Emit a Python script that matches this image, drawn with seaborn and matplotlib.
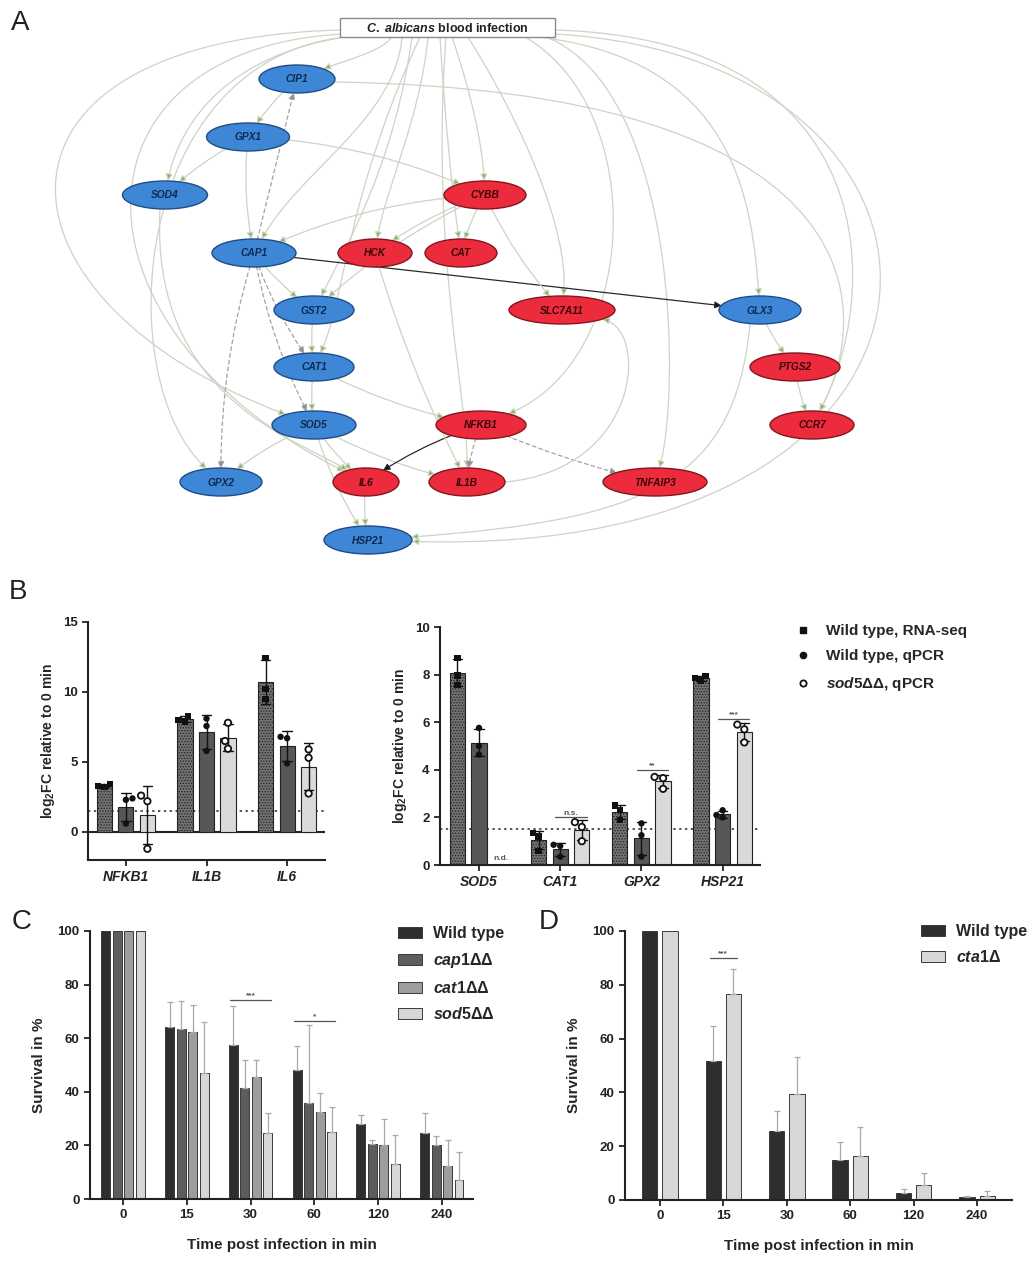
import numpy as np
import pandas as pd
import matplotlib
matplotlib.use("Agg")
import matplotlib.pyplot as plt
import seaborn as sns
from matplotlib.patches import Ellipse, Rectangle, FancyArrowPatch, Patch
from matplotlib.path import Path
from matplotlib.lines import Line2D

# ======================= DATA =======================
# ---- Panel A: network ----
fungal_genes = ['CIP1', 'GPX1', 'SOD4', 'CAP1', 'GST2', 'CAT1', 'SOD5', 'GPX2', 'HSP21', 'GLX3']
host_genes = ['CYBB', 'HCK', 'CAT', 'SLC7A11', 'PTGS2', 'NFKB1', 'CCR7', 'IL6', 'IL1B', 'TNFAIP3']
infection_label = 'C. albicans blood infection'
infection_targets = ['CIP1', 'SOD4', 'SOD5', 'IL6', 'GPX2', 'CAP1', 'GST2', 'HCK', 'CAT', 'CYBB',
                     'CAT1', 'SLC7A11', 'IL1B', 'NFKB1', 'GLX3', 'TNFAIP3', 'CCR7', 'HSP21']
gene_links = [
    ('CIP1', 'GPX1', 'activation'), ('GPX1', 'SOD4', 'activation'), ('GPX1', 'CAP1', 'activation'),
    ('GPX1', 'CYBB', 'activation'), ('CIP1', 'CCR7', 'activation'), ('CAP1', 'CIP1', 'predicted'),
    ('CAP1', 'GST2', 'activation'), ('CAP1', 'CAT1', 'predicted'), ('CAP1', 'GPX2', 'predicted'),
    ('CAP1', 'SOD5', 'predicted'), ('CAP1', 'GLX3', 'regulation'), ('CYBB', 'CAP1', 'activation'),
    ('CYBB', 'HCK', 'activation'), ('CYBB', 'CAT', 'activation'), ('CYBB', 'SLC7A11', 'activation'),
    ('CYBB', 'GST2', 'activation'), ('GST2', 'CAT1', 'activation'), ('CAT1', 'SOD5', 'activation'),
    ('CAT1', 'NFKB1', 'activation'), ('SOD5', 'GPX2', 'activation'), ('SOD5', 'IL6', 'activation'),
    ('SOD5', 'IL1B', 'activation'), ('SOD5', 'HSP21', 'activation'), ('NFKB1', 'IL6', 'regulation'),
    ('NFKB1', 'IL1B', 'predicted'), ('NFKB1', 'TNFAIP3', 'predicted'), ('IL6', 'HSP21', 'activation'),
    ('HCK', 'IL1B', 'activation'), ('GLX3', 'PTGS2', 'activation'), ('PTGS2', 'CCR7', 'activation'),
    ('GLX3', 'HSP21', 'activation'), ('SOD4', 'IL6', 'activation'), ('IL1B', 'SLC7A11', 'activation'),
]

# ---- Panel B ----
series_B = ['Wild type, RNA-seq', 'Wild type, qPCR', 'sod5ΔΔ, qPCR']
threshold_B = 1.5
genes_B1 = ['NFKB1', 'IL1B', 'IL6']
rnaseq_B1 = [[3.45, 3.3, 3.2], [8.3, 8.0, 7.9], [12.45, 10.2, 9.5]]
qpcr_B1 = [[2.4, 2.3, 0.6], [8.1, 7.57, 5.79], [6.8, 6.7, 4.9]]
sod5_B1 = [[2.6, 2.2, -1.2], [7.8, 6.5, 5.95], [5.9, 5.3, 2.75]]
genes_B2 = ['SOD5', 'CAT1', 'GPX2', 'HSP21']
rnaseq_B2 = [[8.7, 7.97, 7.57], [1.35, 1.2, 0.6], [2.5, 2.3, 1.9], [7.95, 7.85, 7.75]]
qpcr_B2 = [[5.76, 5.0, 4.64], [0.85, 0.8, 0.35], [1.75, 1.25, 0.35], [2.3, 2.1, 2.0]]
sod5_B2 = [[np.nan, np.nan, np.nan], [1.8, 1.6, 1.0], [3.7, 3.65, 3.2], [5.9, 5.7, 5.15]]
sig_B2_genes = ['CAT1', 'GPX2', 'HSP21']
sig_B2_text = ['n.s.', '**', '***']
sig_B2_y = [2.0, 4.0, 6.15]
nd_B2_gene = 'SOD5'

# ---- Panel C ----
timepoints = ['0', '15', '30', '60', '120', '240']
strains_C = ['Wild type', 'cap1ΔΔ', 'cat1ΔΔ', 'sod5ΔΔ']
surv_wt_C = [100, 64, 57.5, 48, 28, 24.5]
surv_cap1_C = [100, 63.5, 41.5, 36, 20.5, 20]
surv_cat1_C = [100, 62.5, 45.5, 32.5, 20, 12.5]
surv_sod5_C = [100, 47, 24.5, 25, 13, 7]
err_wt_C = [0, 9.5, 14.5, 9, 3.5, 7.5]
err_cap1_C = [0, 10.5, 10.5, 29, 1.5, 3.5]
err_cat1_C = [0, 10, 6.5, 7, 10, 9.5]
err_sod5_C = [0, 19, 7.5, 9.5, 11, 10.5]
sig_C_time = ['30', '60']
sig_C_text = ['***', '*']
sig_C_y = [74.3, 66.5]

# ---- Panel D ----
strains_D = ['Wild type', 'cta1Δ']
surv_wt_D = [100, 51.5, 25.5, 15, 2.5, 1]
surv_cta1_D = [100, 76.5, 39.5, 16.5, 5.5, 1.5]
err_wt_D = [0, 13, 7.5, 6.5, 1.5, 0.5]
err_cta1_D = [0, 9.5, 13.5, 10.5, 4.5, 2]
sig_D_time = ['15']
sig_D_text = ['***']
sig_D_y = [90.0]

# ======================= STYLE =======================
sns.set_style('ticks')
plt.rcParams['font.family'] = ['Liberation Sans', 'DejaVu Sans']
plt.rcParams['font.weight'] = 'bold'
plt.rcParams['axes.labelweight'] = 'bold'
plt.rcParams['mathtext.fontset'] = 'custom'
plt.rcParams['mathtext.rm'] = 'Liberation Sans:bold'
plt.rcParams['mathtext.bf'] = 'Liberation Sans:bold'
plt.rcParams['mathtext.it'] = 'Liberation Sans:italic:bold'
plt.rcParams['hatch.color'] = '#3c3c3c'
plt.rcParams['hatch.linewidth'] = 0.6
plt.rcParams['axes.edgecolor'] = '#222222'
plt.rcParams['axes.linewidth'] = 1.5
plt.rcParams['xtick.major.width'] = 1.3
plt.rcParams['ytick.major.width'] = 1.3
plt.rcParams['xtick.major.size'] = 4
plt.rcParams['ytick.major.size'] = 4
plt.rcParams['xtick.color'] = '#222222'
plt.rcParams['ytick.color'] = '#222222'

W, H = 1032, 1261
fig = plt.figure(figsize=(W / 100, H / 100), dpi=100)


def axes_px(x0, y0, x1, y1):
    return fig.add_axes([x0 / W, 1 - y1 / H, (x1 - x0) / W, (y1 - y0) / H])


def fmt_strain(s):
    if s.startswith('Wild'):
        return s
    gene = s.split('Δ')[0]
    rest = s[len(gene):]
    return r'$\mathit{' + gene + '}$' + rest


# ======================= PANEL A =======================
NET_H = 565
axn = fig.add_axes([0, 1 - NET_H / H, 1, NET_H / H])
axn.set_xlim(0, W)
axn.set_ylim(NET_H, 0)
axn.axis('off')

node_layout = {  # cx, cy, width (pixels)
    'CIP1': (297, 79, 76), 'GPX1': (248, 137, 83), 'SOD4': (165, 195, 85), 'CYBB': (485, 195, 82),
    'CAP1': (254, 253, 84), 'HCK': (375, 253, 74), 'CAT': (461, 253, 72), 'GST2': (314, 310, 80),
    'SLC7A11': (562, 310, 106), 'GLX3': (760, 310, 82), 'CAT1': (314, 367, 80), 'PTGS2': (795, 367, 90),
    'SOD5': (314, 425, 84), 'NFKB1': (481, 425, 90), 'CCR7': (812, 425, 84), 'GPX2': (221, 482, 82),
    'IL6': (366, 482, 66), 'IL1B': (467, 482, 76), 'TNFAIP3': (655, 482, 104), 'HSP21': (368, 540, 88),
}
NODE_H = 28
box_layout = (340, 18, 555, 37)

box_edge_geom = {
    'CIP1': ((392, 37), (380, 52), (352, 58)),
    'SOD4': ((345, 37), (230, 55), (180, 120)),
    'SOD5': ((340, 30), (-40, 40), (-20, 300)),
    'IL6': ((342, 34), (60, 50), (60, 330)),
    'GPX2': ((346, 37), (130, 60), (110, 380)),
    'CAP1': ((402, 37), (395, 120), (300, 170)),
    'GST2': ((412, 37), (395, 160), (350, 240)),
    'HCK': ((428, 37), (420, 120), (385, 190)),
    'CAT': ((440, 37), (445, 120), (452, 190)),
    'CYBB': ((452, 37), (470, 90), (482, 140)),
    'CAT1': ((420, 37), (345, 200), (345, 300)),
    'SLC7A11': ((468, 37), (520, 120), (570, 230)),
    'IL1B': ((446, 37), (430, 250), (468, 400)),
    'NFKB1': ((525, 37), (650, 110), (640, 360)),
    'GLX3': ((538, 37), (735, 60), (752, 200)),
    'TNFAIP3': ((546, 37), (680, 90), (680, 400)),
    'CCR7': ((555, 30), (890, 40), (880, 300)),
    'HSP21': ((555, 34), (1010, 60), (1010, 560)),
}
link_geom = {
    ('CIP1', 'CCR7'): ((335, 82), (860, 90), (880, 300)),
    ('GLX3', 'HSP21'): ((750, 324), (735, 480), (650, 520)),
    ('IL1B', 'SLC7A11'): ((505, 482), (640, 470), (650, 330)),
    ('SOD4', 'IL6'): ((160, 209), (150, 400), (300, 440)),
}
link_rad = {('GPX1', 'CYBB'): -0.1, ('CYBB', 'CAP1'): 0.1, ('CAP1', 'GLX3'): 0.0,
            ('CAP1', 'CIP1'): 0.0, ('NFKB1', 'TNFAIP3'): 0.05, ('HCK', 'IL1B'): 0.05}

edge_style = {
    'activation': dict(ec='#cdd3c5', fc='#78b447', ls='-', lw=0.9),
    'predicted': dict(ec='#a3a3a3', fc='#8a8a8a', ls=(0, (3, 2.5)), lw=0.9),
    'regulation': dict(ec='#2a2a2a', fc='#111111', ls='-', lw=0.9),
}


def ell_point(node, toward):
    cx, cy, w = node_layout[node]
    a, b = w / 2, NODE_H / 2
    dx, dy = toward[0] - cx, toward[1] - cy
    t = 1 / np.sqrt((dx / a) ** 2 + (dy / b) ** 2)
    return (cx + t * dx, cy + t * dy)


def bezier_arrow(p0, c1, c2, p3, kind):
    st = edge_style[kind]
    path = Path([p0, c1, c2, p3], [Path.MOVETO, Path.CURVE4, Path.CURVE4, Path.CURVE4])
    arr = FancyArrowPatch(path=path, arrowstyle='-|>,head_length=0.45,head_width=0.22',
                          mutation_scale=9, edgecolor=st['ec'], facecolor=st['fc'],
                          linestyle=st['ls'], linewidth=st['lw'], zorder=1)
    axn.add_patch(arr)


ellipses = {}
for g in fungal_genes + host_genes:
    cx, cy, w = node_layout[g]
    is_host = g in host_genes
    e = Ellipse((cx, cy), w, NODE_H, facecolor='#ec2b3c' if is_host else '#3d87d6',
                edgecolor='#861520' if is_host else '#1f4c88', linewidth=1.0, zorder=3)
    axn.add_patch(e)
    ellipses[g] = e
    axn.text(cx, cy + 0.5, g, ha='center', va='center', fontsize=7.3, fontstyle='italic',
             fontweight='bold', color='#3a0508' if is_host else '#10294f', zorder=4)

bx0, by0, bx1, by1 = box_layout
axn.add_patch(Rectangle((bx0, by0), bx1 - bx0, by1 - by0, facecolor='white',
                        edgecolor='#8a8a8a', linewidth=1.0, zorder=3))
lab_gen, lab_rest = infection_label.split(' blood')
axn.text((bx0 + bx1) / 2, (by0 + by1) / 2 + 0.5,
         r'$\mathit{' + lab_gen.replace(' ', r'\ ') + '}$ blood' + lab_rest,
         ha='center', va='center', fontsize=9, fontweight='bold', color='#222', zorder=4)

for tgt in infection_targets:
    p0, c1, c2 = box_edge_geom[tgt]
    bezier_arrow(p0, c1, c2, ell_point(tgt, c2), 'activation')

for src, dst, kind in gene_links:
    if (src, dst) in link_geom:
        p0, c1, c2 = link_geom[(src, dst)]
        bezier_arrow(p0, c1, c2, ell_point(dst, c2), kind)
    else:
        st = edge_style[kind]
        rad = link_rad.get((src, dst), 0.08)
        arr = FancyArrowPatch(node_layout[src][:2], node_layout[dst][:2],
                              patchA=ellipses[src], patchB=ellipses[dst],
                              connectionstyle=f'arc3,rad={rad}',
                              arrowstyle='-|>,head_length=0.45,head_width=0.22', mutation_scale=9,
                              edgecolor=st['ec'], facecolor=st['fc'], linestyle=st['ls'],
                              linewidth=st['lw'], shrinkA=0, shrinkB=0, zorder=1)
        axn.add_patch(arr)

# ======================= PANEL B =======================
palette_B = {series_B[0]: '#727272', series_B[1]: '#575757', series_B[2]: '#dadada'}
marker_B = {series_B[0]: 's', series_B[1]: 'o', series_B[2]: 'o'}
point_fill_B = {series_B[0]: '#111111', series_B[1]: '#111111', series_B[2]: '#ffffff'}


def long_B(genes, rna, qpcr, sod5):
    rows = []
    for s, vals in zip(series_B, [rna, qpcr, sod5]):
        for g, reps in zip(genes, vals):
            for v in reps:
                rows.append({'gene': g, 'series': s, 'value': v})
    return pd.DataFrame(rows)


def bar_lookup(ax):
    out = {}
    for hi, cont in enumerate(ax.containers):
        for p in cont.patches:
            xc = p.get_x() + p.get_width() / 2
            out[(hi, int(round(xc)))] = (xc, p.get_height(), p.get_width())
    return out


def panel_B(ax, genes, df):
    sns.barplot(data=df, x='gene', y='value', hue='series', order=genes, hue_order=series_B,
                palette=palette_B, errorbar='sd', capsize=0.35,
                err_kws={'color': '#111111', 'linewidth': 1.0}, width=0.8, gap=0.3,
                edgecolor='#222222', linewidth=0.8, legend=False, ax=ax)
    for p in ax.containers[0].patches:
        p.set_hatch('......')
    for s in series_B:
        sub = df[df['series'] == s]
        sns.swarmplot(data=sub, x='gene', y='value', hue='series', order=genes, hue_order=series_B,
                      palette=point_fill_B, dodge=True, marker=marker_B[s], size=4.6,
                      edgecolor='#111111', linewidth=1.3 if s == series_B[2] else 0,
                      legend=False, ax=ax, zorder=5)
    ax.axhline(threshold_B, color='#555555', linestyle=(0, (1.2, 1.8)), linewidth=1.4, zorder=0.5)
    ax.set_xlabel('')
    ax.set_ylabel('log$_2$FC relative to 0 min', fontsize=10, fontweight='bold', labelpad=4)
    for lbl in ax.get_xticklabels():
        lbl.set_fontstyle('italic')
        lbl.set_fontweight('bold')
        lbl.set_fontsize(10)
    ax.tick_params(axis='y', labelsize=9.5)
    sns.despine(ax=ax)


axB1 = axes_px(88, 622, 325, 860)
dfB1 = long_B(genes_B1, rnaseq_B1, qpcr_B1, sod5_B1)
panel_B(axB1, genes_B1, dfB1)
axB1.axhline(0, color='#222222', linewidth=1.5, zorder=0.6)
axB1.set_ylim(-2, 15)
axB1.set_yticks([0, 5, 10, 15])
axB1.set_xlim(-0.47, 2.47)

axB2 = axes_px(440, 627, 760, 865)
dfB2 = long_B(genes_B2, rnaseq_B2, qpcr_B2, sod5_B2)
panel_B(axB2, genes_B2, dfB2)
axB2.set_ylim(0, 10)
axB2.set_yticks([0, 2, 4, 6, 8, 10])
axB2.set_xlim(-0.48, 3.46)
barsB2 = bar_lookup(axB2)
for g, t, y in zip(sig_B2_genes, sig_B2_text, sig_B2_y):
    ci = genes_B2.index(g)
    xa = barsB2[(1, ci)][0]
    xb = barsB2[(2, ci)][0]
    axB2.plot([xa - 0.06, xb + 0.06], [y, y], color='#555555', lw=0.9)
    axB2.text((xa + xb) / 2, y + 0.03, t, ha='center', va='bottom', fontsize=6, color='#555555')
any_sod = [v for k, v in barsB2.items() if k[0] == 2][0][0]
sod_off = any_sod - round(any_sod)
axB2.text(genes_B2.index(nd_B2_gene) + sod_off, 0.12, 'n.d.', ha='center', va='bottom',
          fontsize=6, color='#555555')

legB_handles = [
    Line2D([], [], marker='s', linestyle='none', markersize=4.5, markerfacecolor='#111',
           markeredgecolor='#111'),
    Line2D([], [], marker='o', linestyle='none', markersize=4.5, markerfacecolor='#111',
           markeredgecolor='#111'),
    Line2D([], [], marker='o', linestyle='none', markersize=4.5, markerfacecolor='white',
           markeredgecolor='#111', markeredgewidth=1.3),
]
legB_labels = [series_B[0], series_B[1],
               fmt_strain(series_B[2].split(',')[0]) + ',' + series_B[2].split(',')[1]]
fig.legend(legB_handles, legB_labels, loc='upper left', bbox_to_anchor=(795 / W, 1 - 624 / H),
           frameon=False, fontsize=11, handlelength=1.0, handletextpad=1.0, labelspacing=0.75,
           borderpad=0, borderaxespad=0)


# ======================= PANELS C & D =======================
def survival_panel(ax, strains, surv, errs, palette, width, gap, sig_t, sig_txt, sig_y, sig_pair):
    rows = []
    for s, vals in zip(strains, surv):
        for t, v in zip(timepoints, vals):
            rows.append({'time': t, 'strain': s, 'survival': v})
    df = pd.DataFrame(rows)
    sns.barplot(data=df, x='time', y='survival', hue='strain', order=timepoints, hue_order=strains,
                palette=palette, errorbar=None, width=width, gap=gap, edgecolor='#3a3a3a',
                linewidth=0.7, legend=False, ax=ax)
    bars = bar_lookup(ax)
    for hi, ev in enumerate(errs):
        for ci, e in enumerate(ev):
            if e > 0:
                xc, h, _ = bars[(hi, ci)]
                ax.errorbar(xc, h, yerr=[[0], [e]], fmt='none', ecolor='#a9a9a9', elinewidth=0.9,
                            capsize=2.5, capthick=0.9, zorder=1)
    for t, txt, y in zip(sig_t, sig_txt, sig_y):
        ci = timepoints.index(t)
        xa = bars[(sig_pair[0], ci)][0]
        xb = bars[(sig_pair[1], ci)][0]
        ax.plot([xa - 0.05, xb + 0.05], [y, y], color='#555555', lw=0.9)
        ax.text((xa + xb) / 2, y + 0.3, txt, ha='center', va='bottom', fontsize=6, color='#555555')
    ax.set_ylim(0, 100)
    ax.set_yticks([0, 20, 40, 60, 80, 100])
    ax.set_xlabel('Time post infection in min', fontsize=11, fontweight='bold', labelpad=12)
    ax.set_ylabel('Survival in %', fontsize=11, fontweight='bold', labelpad=8)
    ax.tick_params(labelsize=9.5)
    sns.despine(ax=ax)
    handles = [Patch(facecolor=palette[s], edgecolor='#3a3a3a', linewidth=0.7) for s in strains]
    return handles


palette_C = {'Wild type': '#2e2e2e', 'cap1ΔΔ': '#5d5d5d', 'cat1ΔΔ': '#9d9d9d', 'sod5ΔΔ': '#d7d7d7'}
axC = axes_px(90, 931, 473, 1199)
hC = survival_panel(axC, strains_C, [surv_wt_C, surv_cap1_C, surv_cat1_C, surv_sod5_C],
                    [err_wt_C, err_cap1_C, err_cat1_C, err_sod5_C], palette_C, 0.72, 0.22,
                    sig_C_time, sig_C_text, sig_C_y, (0, 3))
axC.set_xlim(-0.52, 5.49)
fig.legend(hC, [fmt_strain(s) for s in strains_C], loc='upper left',
           bbox_to_anchor=(398 / W, 1 - 926 / H), frameon=False, fontsize=11.5, handlelength=1.5,
           handleheight=0.7, handletextpad=0.7, labelspacing=0.62, borderpad=0, borderaxespad=0)

palette_D = {'Wild type': '#2e2e2e', 'cta1Δ': '#d7d7d7'}
axD = axes_px(625, 931, 1012, 1200)
hD = survival_panel(axD, strains_D, [surv_wt_D, surv_cta1_D], [err_wt_D, err_cta1_D], palette_D,
                    0.64, 0.25, sig_D_time, sig_D_text, sig_D_y, (0, 1))
axD.set_xlim(-0.55, 5.55)
fig.legend(hD, [fmt_strain(s) for s in strains_D], loc='upper left',
           bbox_to_anchor=(921 / W, 1 - 924 / H), frameon=False, fontsize=11.5, handlelength=1.5,
           handleheight=0.7, handletextpad=0.7, labelspacing=0.62, borderpad=0, borderaxespad=0)

# ======================= PANEL LETTERS =======================
for letter, (px, py) in zip('ABCD', [(11, 10), (9, 579), (12, 909), (539, 909)]):
    fig.text(px / W, 1 - py / H, letter, fontsize=20, fontweight='normal', ha='left', va='top',
             color='#222222')

fig.savefig('out.png', dpi=100, facecolor='white')
